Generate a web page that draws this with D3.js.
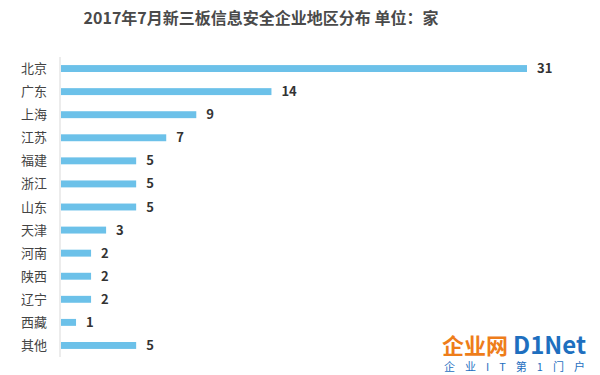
<!DOCTYPE html>
<html>
<head>
<meta charset="utf-8">
<script src="https://cdn.jsdelivr.net/npm/d3@7"></script>
<style>
  body { margin: 0; background: #fff; }
  svg { display: block; font-family: "Noto Sans CJK SC", "Noto Sans", sans-serif; }
</style>
</head>
<body>
<svg></svg>
<script>
// data
let regions = ['北京', '广东', '上海', '江苏', '福建', '浙江', '山东', '天津', '河南', '陕西', '辽宁', '西藏', '其他'];
let counts = [31, 14, 9, 7, 5, 5, 5, 3, 2, 2, 2, 1, 5];
let title = '2017年7月新三板信息安全企业地区分布 单位：家';

// configuration of svg/plot area
let config = { 'svg': {}, 'margin': {}, 'plot': {} };
config.svg.width = 600;
config.svg.height = 375;

config.margin.top = 57;
config.margin.left = 61;
config.margin.bottom = 18;

config.plot.height = config.svg.height - config.margin.top - config.margin.bottom;

let svg = d3.select('svg')
  .attr('width', config.svg.width)
  .attr('height', config.svg.height);

// title
svg.append('text')
  .attr('x', 261)
  .attr('y', 24)
  .attr('text-anchor', 'middle')
  .attr('font-size', 16)
  .attr('font-weight', 'bold')
  .attr('fill', '#4a4a4a')
  .text(title);

let x = d3.scaleLinear().domain([0, 31]).range([0, 466]);
let y = d3.scaleBand().domain(regions).range([0, config.plot.height]).paddingInner(0.7).paddingOuter(0.35);

let plot = svg.append('g')
  .attr('transform', `translate(${config.margin.left},${config.margin.top})`);

// axis line
plot.append('line')
  .attr('x1', -1).attr('x2', -1)
  .attr('y1', 0).attr('y2', config.plot.height)
  .attr('stroke', '#d9d9d9');

let rows = regions.map((r, i) => ({ name: r, value: counts[i] }));

plot.selectAll('rect.bar')
  .data(rows)
  .enter().append('rect')
  .attr('class', 'bar')
  .attr('x', 0)
  .attr('y', d => y(d.name))
  .attr('width', d => x(d.value))
  .attr('height', y.bandwidth())
  .attr('fill', '#6cc1e9');

plot.selectAll('text.cat')
  .data(rows)
  .enter().append('text')
  .attr('class', 'cat')
  .attr('x', -14)
  .attr('y', d => y(d.name) + y.bandwidth() / 2)
  .attr('dy', '0.35em')
  .attr('text-anchor', 'end')
  .attr('font-size', 13)
  .attr('fill', '#444')
  .text(d => d.name);

plot.selectAll('text.val')
  .data(rows)
  .enter().append('text')
  .attr('class', 'val')
  .attr('x', d => x(d.value) + 10)
  .attr('y', d => y(d.name) + y.bandwidth() / 2)
  .attr('dy', '0.35em')
  .attr('font-size', 13)
  .attr('font-weight', 'bold')
  .attr('fill', '#333')
  .text(d => d.value);

// source logo, bottom right
let logo = svg.append('g').attr('transform', 'translate(442,354)');
logo.append('text')
  .attr('x', 0).attr('y', 0)
  .attr('font-size', 22).attr('font-weight', 'bold')
  .attr('fill', '#ee7d1a')
  .text('企业网');
logo.append('text')
  .attr('x', 71).attr('y', 0)
  .attr('font-size', 24).attr('font-weight', 'bold')
  .attr('fill', '#1e6fbf')
  .text('D1Net');
logo.append('text')
  .attr('x', 2).attr('y', 17)
  .attr('font-size', 11)
  .attr('letter-spacing', 10)
  .attr('fill', '#1e6fbf')
  .text('企业IT第1门户');
</script>
</body>
</html>
